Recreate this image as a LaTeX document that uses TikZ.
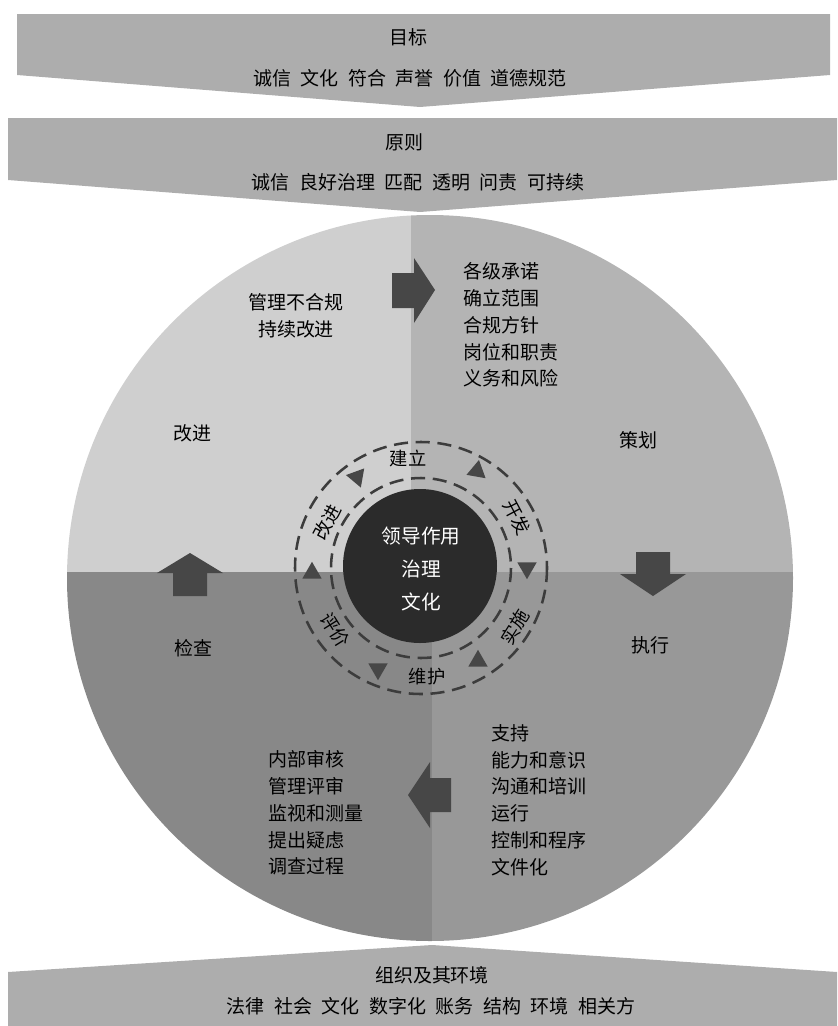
\documentclass[tikz,border=0pt]{standalone}
\usepackage{fontspec}
\setmainfont{Noto Sans CJK SC}
\usetikzlibrary{shapes.geometric}

\definecolor{bandgray}{HTML}{ADADAD}
\definecolor{ulgray}{HTML}{CFCFCF}
\definecolor{urgray}{HTML}{B4B4B4}
\definecolor{llgray}{HTML}{888888}
\definecolor{lrgray}{HTML}{989898}
\definecolor{arrowgray}{HTML}{474747}
\definecolor{ringgray}{HTML}{3C3C3C}
\definecolor{coregray}{HTML}{2B2B2B}

\newcommand{\wsp}{\hspace{0.5em}}

\begin{document}
\begin{tikzpicture}
        [x=0.025cm,y=-0.025cm,
         txt/.style={font=\fontsize{13.5}{19}\selectfont,inner sep=0pt},
         list/.style={txt,align=left,anchor=west},
         ringtxt/.style={font=\fontsize{13}{15}\selectfont,inner sep=0pt},
         tri/.style={regular polygon,regular polygon sides=3,fill=arrowgray,
                     inner sep=0pt,minimum size=0.56cm},
         ring/.style={draw=ringgray,line width=1.8pt,dash pattern=on 10pt off 5.5pt}]

        \useasboundingbox (0,0) rectangle (837,1026);

        % the four quarters
        \begin{scope}
            \clip (430,578) circle[radius=363];
            \fill[ulgray] (0,150) rectangle (411,572);
            \fill[urgray] (411,150) rectangle (837,572);
            \fill[llgray] (0,572) rectangle (432,1000);
            \fill[lrgray] (432,572) rectangle (837,1000);
        \end{scope}

        % bands
        \fill[bandgray] (17,14) -- (830,14) -- (830,75) -- (420,107) -- (17,75) -- cycle;
        \fill[bandgray] (8,118) -- (837,118) -- (837,180) -- (420,212) -- (8,180) -- cycle;
        \fill[bandgray] (8,1026) -- (8,972) -- (432,945) -- (837,972) -- (837,1026) -- cycle;

        % big arrows
        \fill[arrowgray] (392,273) -- (414,273) -- (414,258) -- (435,290)
            -- (414,323) -- (414,308) -- (392,308) -- cycle;
        \fill[arrowgray] (636,552) -- (670,552) -- (670,574) -- (686,574)
            -- (653,596) -- (620,574) -- (636,574) -- cycle;
        \fill[arrowgray] (451,778) -- (451,812) -- (430,812) -- (430,828)
            -- (408,795) -- (430,762) -- (430,778) -- cycle;
        \fill[arrowgray] (173,596) -- (207,596) -- (207,573) -- (223,573)
            -- (190,553) -- (157,573) -- (173,573) -- cycle;

        % rings and core
        \draw[ring] (421,568) circle[radius=126];
        \draw[ring] (421,568) circle[radius=90];
        \fill[coregray] (420,566) circle[radius=77];

        \node[tri,rotate=200] (t1) at (357,477) {};
        \node[tri,rotate=-10] (t2) at (477,471) {};
        \node[tri,rotate=180] (t3) at (527,568) {};
        \node[tri] (t4) at (478,661) {};
        \node[tri,rotate=180] (t5) at (378,669) {};
        \node[tri] (t6) at (312,573) {};

        \node[ringtxt] (jianli) at (408,458) {建立};
        \node[ringtxt,rotate=-62] (kaifa) at (517,517) {开发};
        \node[ringtxt,rotate=58] (shishi) at (515,627) {实施};
        \node[ringtxt] (weihu) at (427,677) {维护};
        \node[ringtxt,rotate=-58] (pingjia) at (335,630) {评价};
        \node[ringtxt,rotate=62] (gaijinR) at (327,522) {改进};

        \node[font=\fontsize{14}{23.8}\selectfont,inner sep=0pt,align=center,text=white]
            (core) at (421,569) {领导作用\\治理\\文化};

        % band texts
        \node[txt] (mubiao) at (408,37) {目标};
        \node[txt] (mubiaoL) at (410,78) {诚信\wsp 文化\wsp 符合\wsp 声誉\wsp 价值\wsp 道德规范};
        \node[txt] (yuanze) at (404,142) {原则};
        \node[txt] (yuanzeL) at (418,182) {诚信\wsp 良好治理\wsp 匹配\wsp 透明\wsp 问责\wsp 可持续};
        \node[txt] (zuzhi) at (432,975) {组织及其环境};
        \node[txt] (zuzhiL) at (431,1006) {法律\wsp 社会\wsp 文化\wsp 数字化\wsp 账务\wsp 结构\wsp 环境\wsp 相关方};

        % quarter texts
        \node[txt] (gaijin) at (192,433) {改进};
        \node[txt] (cehua) at (638,440) {策划};
        \node[txt] (jiancha) at (193,648) {检查};
        \node[txt] (zhixing) at (650,645) {执行};

        \node[txt,align=center] (buhegui) at (296,316) {管理不合规\\持续改进};
        \node[list] (plan) at (463,325) {各级承诺\\确立范围\\合规方针\\岗位和职责\\义务和风险};
        \node[list] (check) at (268,813) {内部审核\\管理评审\\监视和测量\\提出疑虑\\调查过程};
        \node[list] (do) at (491,800) {支持\\能力和意识\\沟通和培训\\运行\\控制和程序\\文件化};

\end{tikzpicture}
\end{document}
